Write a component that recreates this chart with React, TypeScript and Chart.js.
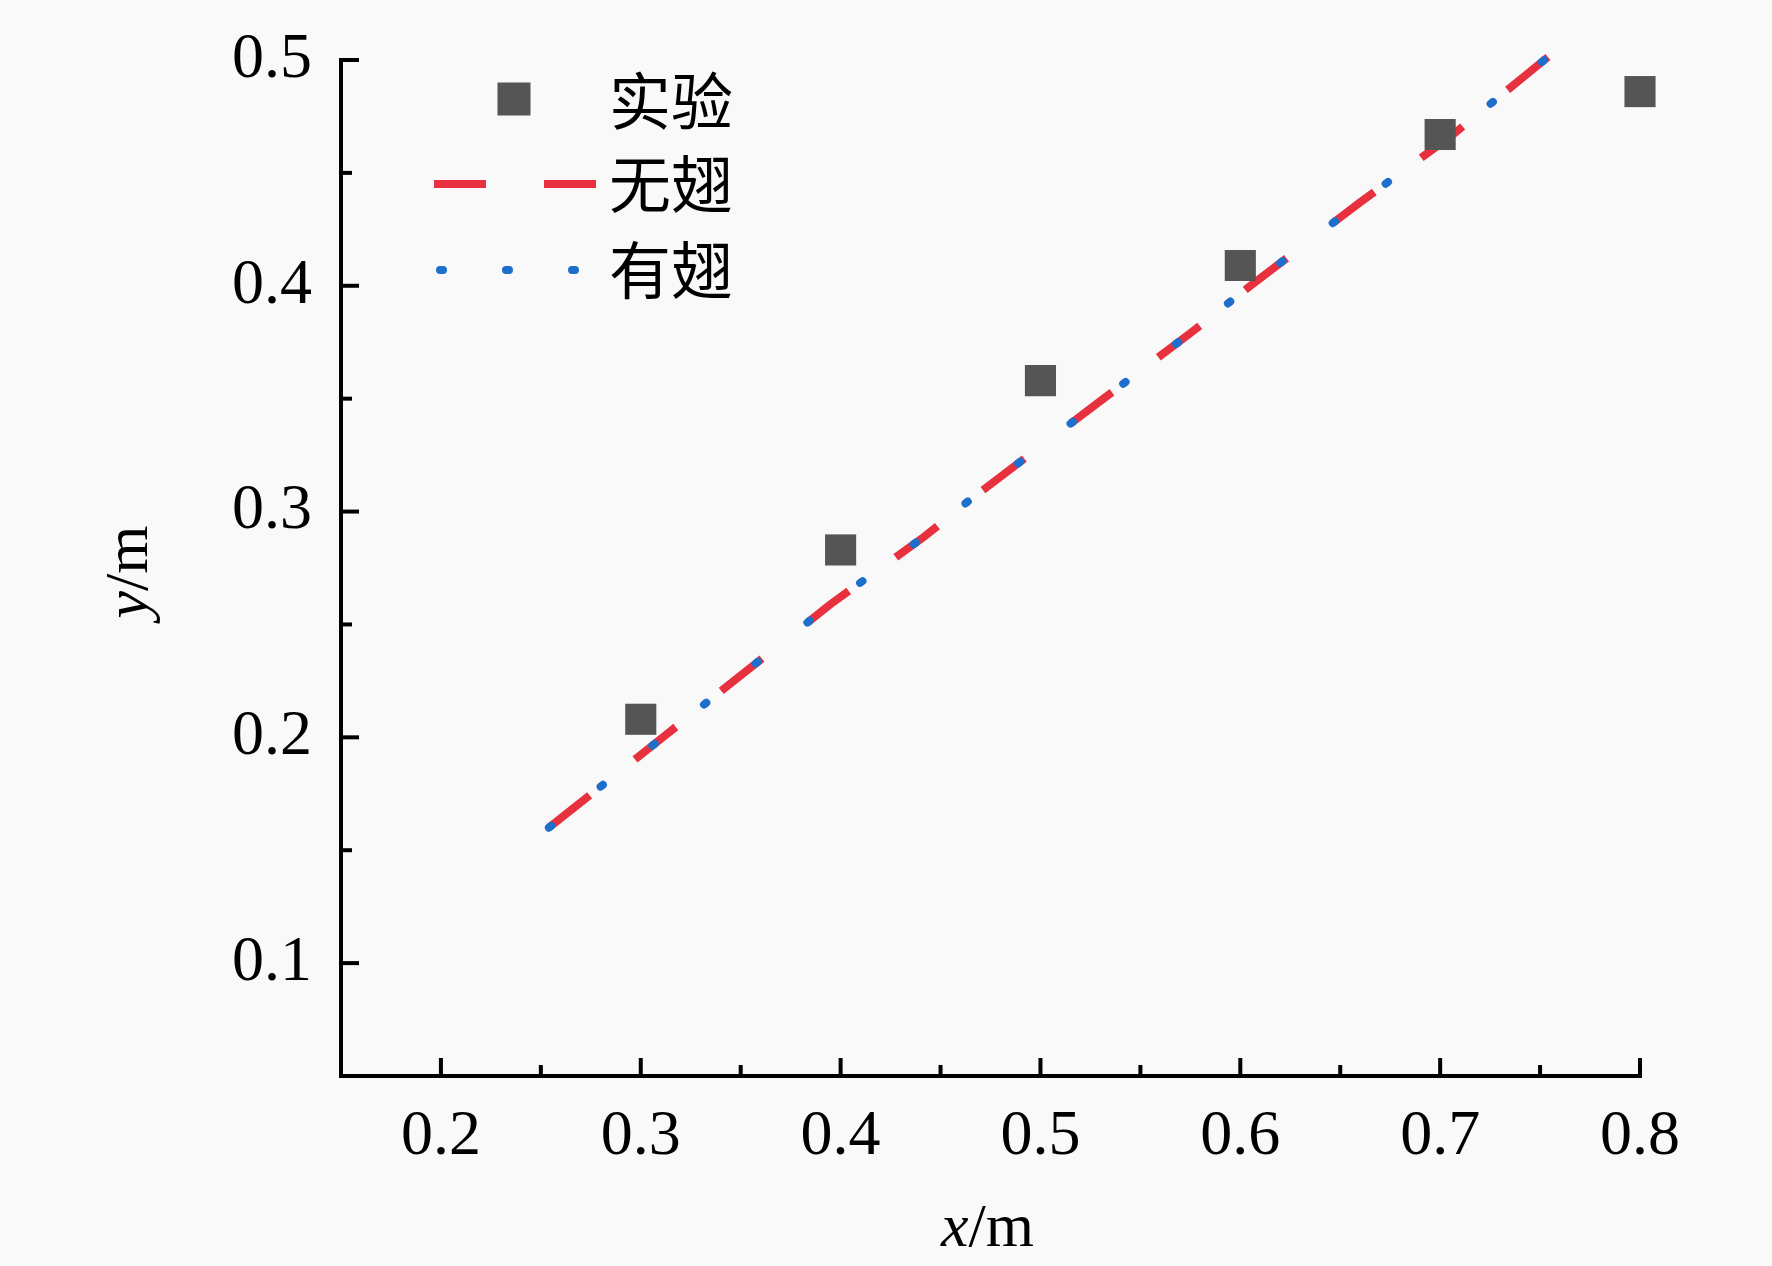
import React, { useEffect, useRef } from 'react';
import { Chart, registerables } from 'chart.js';

Chart.register(...registerables);

// ---- data ----
const expX = [0.3, 0.4, 0.5, 0.6, 0.7, 0.8];
const expY = [0.208, 0.283, 0.358, 0.409, 0.467, 0.486];

const noWingX = [0.254, 0.311, 0.395, 0.442, 0.463, 0.527, 0.575, 0.605, 0.66, 0.705, 0.759];
const noWingY = [0.16, 0.2, 0.259, 0.289, 0.304, 0.347, 0.379, 0.4, 0.437, 0.466, 0.505];

const wingX = [0.254, 0.311, 0.395, 0.442, 0.463, 0.527, 0.575, 0.605, 0.66, 0.705, 0.759];
const wingY = [0.16, 0.2, 0.259, 0.289, 0.304, 0.347, 0.379, 0.4, 0.437, 0.466, 0.505];

const xMajorTicks = ['0.2', '0.3', '0.4', '0.5', '0.6', '0.7', '0.8'];
const yMajorTicks = ['0.1', '0.2', '0.3', '0.4', '0.5'];

const legendLabels = ['实验', '无翅', '有翅'];
const xTitle = ['x', '/m'];
const yTitle = ['y', '/m'];

const SERIF = '"Liberation Serif", "Times New Roman", serif';
const CJK = '"Noto Sans CJK SC", sans-serif';
const EXP_COLOR = '#555555';
const RED = '#E8313F';
const BLUE = '#1E6FCB';

const toPts = (xs: number[], ys: number[]) => xs.map((x, i) => ({ x, y: ys[i] }));
const isMajor = (v: number, list: string[]) => list.includes(Number(v).toFixed(2).replace(/0$/, ''));

const axesPlugin = {
  id: 'customAxes',
  beforeDatasetsDraw(chart: any) {
    const { ctx, chartArea } = chart;
    const xs = chart.scales.x;
    const ys = chart.scales.y;
    const left = chartArea.left;
    const bottom = chartArea.bottom;
    ctx.save();
    ctx.strokeStyle = '#000';
    ctx.lineWidth = 4;
    ctx.lineJoin = 'miter';
    ctx.lineCap = 'butt';
    ctx.beginPath();
    ctx.moveTo(left, ys.getPixelForValue(ys.max) - 2);
    ctx.lineTo(left, bottom);
    ctx.lineTo(xs.getPixelForValue(xs.max) + 2, bottom);
    ctx.stroke();
    ctx.lineWidth = 4;
    xs.ticks.forEach((t: any, i: number) => {
      if (i === 0) return;
      const px = xs.getPixelForValue(t.value);
      const len = isMajor(t.value, xMajorTicks) ? 18 : 11;
      ctx.beginPath();
      ctx.moveTo(px, bottom);
      ctx.lineTo(px, bottom - len);
      ctx.stroke();
    });
    ys.ticks.forEach((t: any, i: number) => {
      if (i === 0) return;
      const py = ys.getPixelForValue(t.value);
      const len = isMajor(t.value, yMajorTicks) ? 18 : 11;
      ctx.beginPath();
      ctx.moveTo(left, py);
      ctx.lineTo(left + len, py);
      ctx.stroke();
    });
    ctx.restore();
  },
};

const decorPlugin = {
  id: 'decor',
  afterDraw(chart: any) {
    const { ctx, chartArea } = chart;
    const ds = chart.data.datasets;
    ctx.save();
    // axis titles
    ctx.fillStyle = '#000';
    ctx.textBaseline = 'alphabetic';
    const it = `italic 62px ${SERIF}`;
    const nm = `62px ${SERIF}`;
    ctx.font = it;
    const w1 = ctx.measureText(xTitle[0]).width;
    ctx.font = nm;
    const w2 = ctx.measureText(xTitle[1]).width;
    const cx = (chartArea.left + chartArea.right) / 2 - 3;
    let sx = cx - (w1 + w2) / 2;
    ctx.font = it;
    ctx.fillText(xTitle[0], sx, 1246);
    ctx.font = nm;
    ctx.fillText(xTitle[1], sx + w1, 1246);

    ctx.save();
    ctx.translate(147, (chartArea.top + chartArea.bottom) / 2 + 4);
    ctx.rotate(-Math.PI / 2);
    ctx.font = it;
    const v1 = ctx.measureText(yTitle[0]).width;
    ctx.font = nm;
    const v2 = ctx.measureText(yTitle[1]).width;
    sx = -(v1 + v2) / 2;
    ctx.font = it;
    ctx.fillText(yTitle[0], sx, 0);
    ctx.font = nm;
    ctx.fillText(yTitle[1], sx + v1, 0);
    ctx.restore();

    // legend
    const rows = [101, 184, 270];
    const byLabel = (l: string) => ds.find((d: any) => d.label === l);
    legendLabels.forEach((lab, i) => {
      const d = byLabel(lab);
      const y = rows[i];
      ctx.save();
      if (d.showLine === false) {
        ctx.fillStyle = d.backgroundColor;
        ctx.fillRect(514 - 16.5, y - 2 - 16.5, 33, 33);
      } else {
        ctx.strokeStyle = d.borderColor;
        ctx.lineWidth = d.borderWidth;
        ctx.lineCap = d.borderCapStyle;
        ctx.setLineDash(d.borderDash);
        ctx.beginPath();
        if (d.borderCapStyle === 'round') {
          ctx.moveTo(440, y);
          ctx.lineTo(580, y);
        } else {
          ctx.moveTo(434, y);
          ctx.lineTo(597, y);
        }
        ctx.stroke();
      }
      ctx.restore();
      ctx.fillStyle = '#000';
      ctx.font = `62px ${CJK}`;
      ctx.textBaseline = 'middle';
      ctx.fillText(lab, 609, y);
    });
    ctx.restore();
  },
};

const noPad = (s: any) => {
  s.paddingTop = 0;
  s.paddingBottom = 0;
  s.paddingLeft = 0;
  s.paddingRight = 0;
};

export default function App() {
  const ref = useRef<HTMLCanvasElement | null>(null);

  useEffect(() => {
    if (!ref.current) return;
    const chart = new Chart(ref.current, {
      type: 'scatter',
      data: {
        datasets: [
          {
            label: '实验',
            data: toPts(expX, expY),
            showLine: false,
            pointStyle: 'rect',
            pointRadius: 22,
            pointHoverRadius: 22,
            backgroundColor: EXP_COLOR,
            borderColor: EXP_COLOR,
            borderWidth: 0,
            clip: false,
            order: 0,
          } as any,
          {
            label: '有翅',
            data: toPts(wingX, wingY),
            showLine: true,
            borderColor: BLUE,
            backgroundColor: BLUE,
            borderWidth: 8,
            borderDash: [3, 63],
            borderCapStyle: 'round',
            pointRadius: 0,
            tension: 0,
            clip: false,
            order: 1,
          } as any,
          {
            label: '无翅',
            data: toPts(noWingX, noWingY),
            showLine: true,
            borderColor: RED,
            backgroundColor: RED,
            borderWidth: 8,
            borderDash: [52, 58],
            borderCapStyle: 'butt',
            pointRadius: 0,
            tension: 0,
            clip: false,
            order: 2,
          } as any,
        ],
      },
      options: {
        animation: false,
        responsive: false,
        devicePixelRatio: 1,
        layout: { padding: { top: 60, right: 132, left: 0, bottom: 0 } },
        plugins: {
          legend: { display: false },
          tooltip: { enabled: false },
          title: { display: false },
        },
        scales: {
          x: {
            type: 'linear',
            min: 0.15,
            max: 0.8,
            grid: { display: false, drawTicks: false },
            border: { display: false },
            ticks: {
              stepSize: 0.05,
              autoSkip: false,
              maxRotation: 0,
              minRotation: 0,
              padding: 23,
              color: '#000',
              font: { family: SERIF, size: 64 },
              callback: (v: any) => {
                const s = Number(v).toFixed(1);
                return isMajor(Number(v), xMajorTicks) ? s : '';
              },
            },
            afterFit: (s: any) => {
              s.height = 190;
              noPad(s);
            },
          },
          y: {
            type: 'linear',
            min: 0.05,
            max: 0.5,
            grid: { display: false, drawTicks: false },
            border: { display: false },
            ticks: {
              stepSize: 0.05,
              autoSkip: false,
              padding: 29,
              color: '#000',
              font: { family: SERIF, size: 64 },
              callback: (v: any) => {
                const s = Number(v).toFixed(1);
                return isMajor(Number(v), yMajorTicks) ? s : '';
              },
            },
            afterFit: (s: any) => {
              s.width = 341;
              noPad(s);
            },
          },
        },
      } as any,
      plugins: [axesPlugin, decorPlugin],
    });
    return () => chart.destroy();
  }, []);

  return (
    <div
      style={{
        position: 'fixed',
        left: 0,
        top: 0,
        width: 1772,
        height: 1266,
        background: '#f9f9f9',
      }}
    >
      <canvas ref={ref} width={1772} height={1266} style={{ width: 1772, height: 1266, display: 'block' }} />
    </div>
  );
}
